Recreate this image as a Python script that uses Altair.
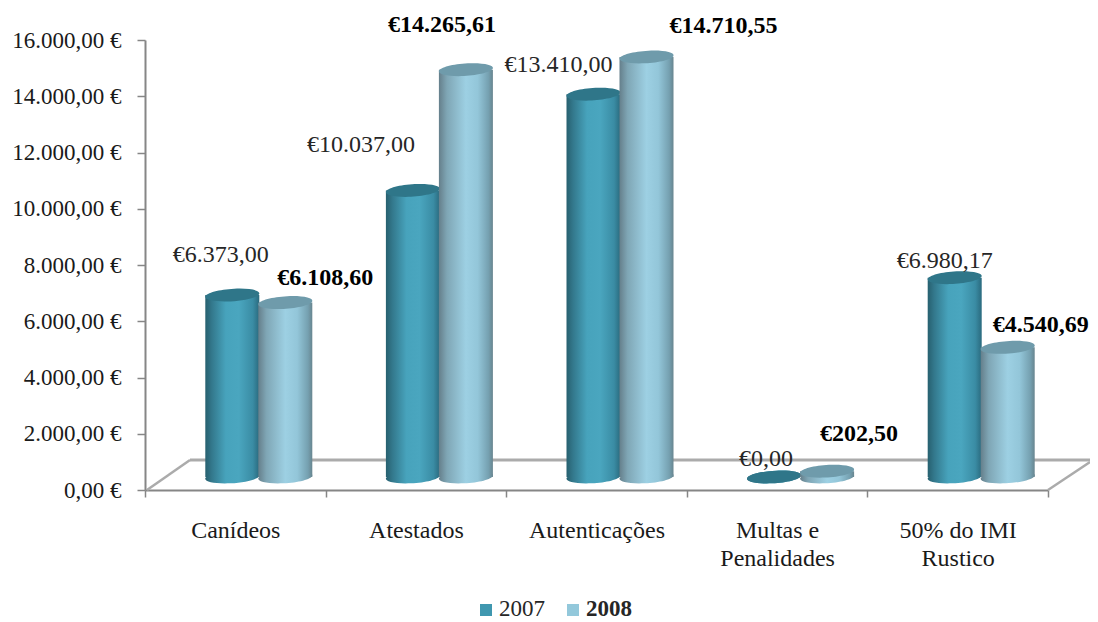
import altair as alt
import pandas as pd

categories = ["Canídeos", "Atestados", "Autenticações", "Multas e Penalidades", "50% do IMI Rustico"]
values_2007 = [6373.00, 10037.00, 13410.00, 0.00, 6980.17]
values_2008 = [6108.60, 14265.61, 14710.55, 202.50, 4540.69]
labels_2007 = ["€6.373,00", "€10.037,00", "€13.410,00", "€0,00", "€6.980,17"]
labels_2008 = ["€6.108,60", "€14.265,61", "€14.710,55", "€202,50", "€4.540,69"]
years = ["2007", "2008"]

FONT = "Liberation Serif"
W, H = 903, 450
LEFT, TOP = 145, 40
ELLIPSE = "M-1,0.05 A1,0.23 -4 1,1 1,-0.05 A1,0.23 -4 1,1 -1,0.05 Z"
SIZE = 2916


def grad(stops):
    return alt.Gradient(gradient="linear", x1=0, x2=1, y1=0, y2=0,
                        stops=[alt.GradientStop(offset=o, color=c) for o, c in stops])


fills = {
    "2007": grad([(0, "#27606F"), (0.12, "#33788C"), (0.38, "#47A3BC"), (0.62, "#4AA6BF"),
                  (0.88, "#3A8CA4"), (1, "#2A6A7E")]),
    "2008": grad([(0, "#657F8B"), (0.15, "#7FA6B5"), (0.5, "#9DD0E3"), (0.72, "#93C6D9"),
                  (0.92, "#75A0B0"), (1, "#68858F")]),
}
tops = {"2007": "#2F7689", "2008": "#6F9BAB"}

df = pd.DataFrame({
    "cat": categories * 2,
    "year": ["2007"] * 5 + ["2008"] * 5,
    "value": values_2007 + values_2008,
    "label": labels_2007 + labels_2008,
})

x_enc = alt.X("cat:N", sort=categories, title=None,
              scale=alt.Scale(domain=categories, paddingInner=0, paddingOuter=0),
              axis=alt.Axis(labelAngle=0, labelFont=FONT, labelFontSize=24, labelColor="#1a1a1a",
                            domainColor="#868686", domainWidth=2, tickColor="#868686", tickWidth=1.5,
                            tickSize=7, labelPadding=40, labelLineHeight=28, tickBand="extent",
                            labelBaseline="alphabetic", labelLimit=300,
                            labelExpr="datum.label == 'Multas e Penalidades' ? ['Multas e', 'Penalidades'] : "
                                      "datum.label == '50% do IMI Rustico' ? ['50% do IMI', 'Rustico'] : datum.label"))
offset_enc = alt.XOffset("year:N", scale=alt.Scale(type="point", domain=years, range=[87.3, 140.3], padding=0))
bar_y = alt.Y("value:Q", title=None, axis=None, scale=alt.Scale(domain=[-455, 15306], nice=False, zero=False))

frame = alt.Chart(df).mark_point(opacity=0).encode(
    x=x_enc,
    y=alt.Y("value:Q", title=None, scale=alt.Scale(domain=[0, 16000], nice=False),
            axis=alt.Axis(values=list(range(0, 16001, 2000)), grid=False, labelFont=FONT, labelFontSize=23,
                          labelColor="#1a1a1a", domainColor="#868686", domainWidth=2, tickColor="#868686",
                          tickWidth=1.5, tickSize=8, labelPadding=16,
                          labelExpr="replace(replace(replace(format(datum.value, ',.2f'), ',', '#'), '.', ','), '#', '.') + ' €'")),
)

one = alt.Chart(pd.DataFrame({"a": [0]}))


def rule(x1, y1, x2, y2, width=3, color="#ABABAB"):
    return one.mark_rule(color=color, strokeWidth=width).encode(
        x=alt.value(x1 - LEFT), x2=alt.value(x2 - LEFT), y=alt.value(y1 - TOP), y2=alt.value(y2 - TOP))


floor = [rule(190, 460, 1090, 460), rule(147, 490, 190, 460, 2.5), rule(1048, 490, 1090, 462, 2.5)]

layers = []
for yr in years:
    sub = alt.Chart(df).transform_filter(alt.datum.year == yr)
    layers.append(sub.transform_filter(alt.datum.value > 0).mark_bar(width=54, fill=fills[yr]).encode(
        x=x_enc, xOffset=offset_enc, y=bar_y))
    layers.append(sub.mark_point(shape=ELLIPSE, size=SIZE, filled=True, fill=fills[yr], opacity=1, strokeWidth=0).encode(
        x=x_enc, xOffset=offset_enc,
        y=alt.Y("zero:Q", title=None, axis=None, scale=alt.Scale(domain=[-455, 15306], nice=False, zero=False))
    ).transform_calculate(zero="0"))
    layers.append(sub.mark_point(shape=ELLIPSE, size=SIZE, filled=True, fill=tops[yr], opacity=1, strokeWidth=0).encode(
        x=x_enc, xOffset=offset_enc, y=bar_y))

offsets = {
    "2007": [(-11.5, -33), (-52, -38), (-35, -22), (-8, -11), (-10, -10)],
    "2008": [(40, -18), (-24, -38), (77, -24), (32, -30), (33, -15)],
}
texts = []
for yr in years:
    for cat, (dx, dy) in zip(categories, offsets[yr]):
        texts.append(alt.Chart(df).transform_filter(
            (alt.datum.year == yr) & (alt.datum.cat == cat)
        ).mark_text(font=FONT, fontSize=24, dx=dx, dy=dy, align="center", baseline="alphabetic",
                    fontWeight="bold" if yr == "2008" else "normal",
                    color="#000000" if yr == "2008" else "#262626").encode(
            x=x_enc, xOffset=offset_enc, y=bar_y, text="label:N"))

legend = []
for yr, sx, tx, col, wt in [("2007", 486, 499, "#3F97AF", "normal"), ("2008", 573, 586, "#93C8DB", "bold")]:
    legend.append(one.mark_square(size=144, color=col, opacity=1).encode(
        x=alt.value(sx - LEFT), y=alt.value(610 - TOP)))
    legend.append(one.mark_text(font=FONT, fontSize=23, align="left", baseline="middle", fontWeight=wt,
                                color="#262626", text=yr).encode(
        x=alt.value(tx - LEFT), y=alt.value(609 - TOP)))

marks = alt.layer(*layers, *texts)

chart = alt.layer(frame, *floor, marks, *legend).resolve_scale(y="independent").properties(
    width=W, height=H,
    padding={"left": LEFT - 8, "top": TOP - 8, "right": 42, "bottom": 132},
    autosize=alt.AutoSizeParams(type="none"),
).configure_view(stroke=None)

chart.save("out.html", embed_options={"renderer": "svg", "actions": False})
